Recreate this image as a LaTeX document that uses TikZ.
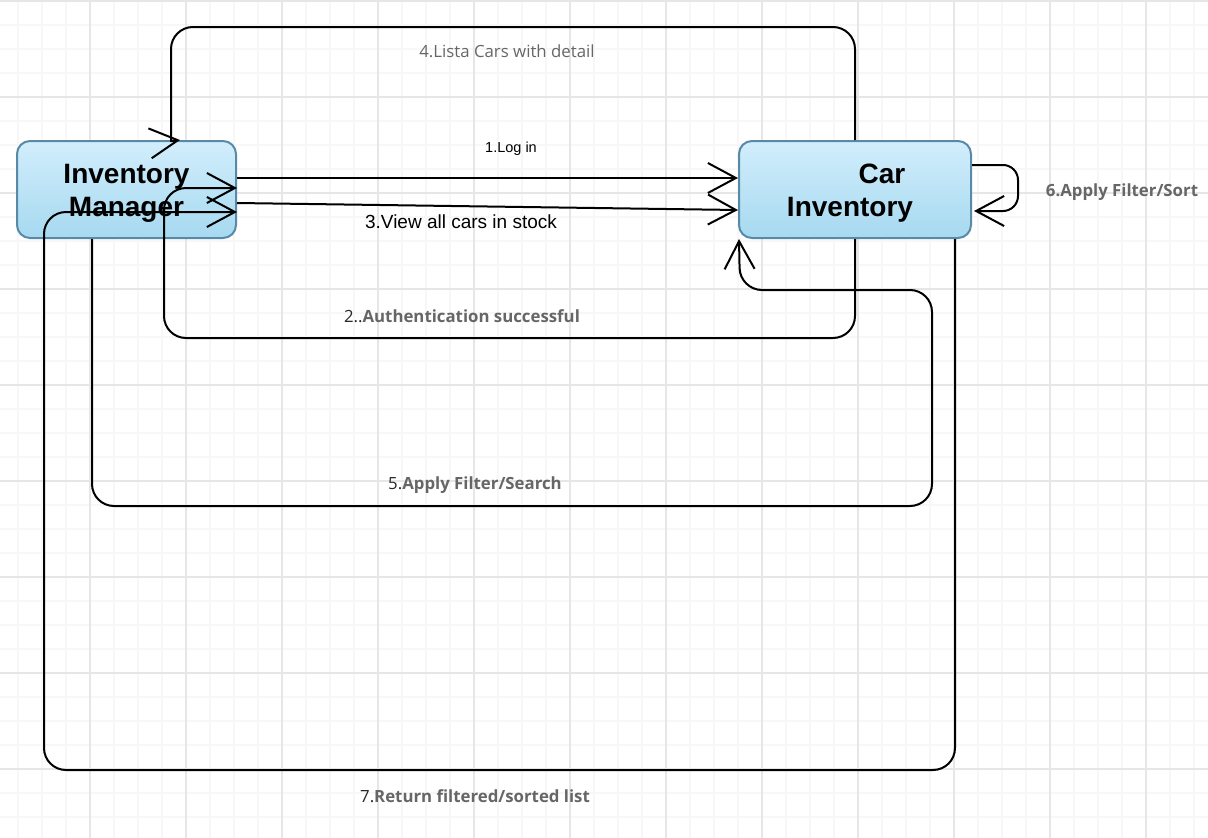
\documentclass[tikz,border=0pt]{standalone}
\usepackage{fontspec}
\setmainfont{Liberation Sans}
\newfontfamily\opensans{Open Sans}
\usetikzlibrary{arrows.meta}
\definecolor{gridmajor}{RGB}{230,230,230}
\definecolor{gridminor}{RGB}{247,247,247}
\definecolor{boxtop}{RGB}{210,238,252}
\definecolor{boxbot}{RGB}{166,217,240}
\definecolor{boxline}{RGB}{88,138,168}
\definecolor{lblgray}{RGB}{102,102,102}
\definecolor{lbldark}{RGB}{40,40,40}
\begin{document}
\begin{tikzpicture}[x=1pt,y=-1pt,
  box/.style={draw=boxline, line width=2pt, rounded corners=13pt,
    top color=boxtop, bottom color=boxbot, inner sep=0pt,
    minimum height=97pt, align=center,
    font=\fontsize{28}{33}\selectfont\bfseries},
  conn/.style={line width=2pt, rounded corners=22pt, line join=round,
    -{Straight Barb[length=28pt,width=30pt,line width=2pt]}},
  lblsans/.style={font=\fontsize{17}{20}\selectfont, text=black, inner sep=0pt},
  lblopen/.style={font=\opensans\fontsize{16.8}{20}\selectfont, text=lblgray, inner sep=0pt},
]
\useasboundingbox (0,0) rectangle (1208,838);
\fill[white] (0,0) rectangle (1208,838);
% grid
\foreach \i in {0,...,49} \draw[gridminor, line width=1.2pt] ({18+24*\i},0) -- ({18+24*\i},838);
\foreach \i in {0,...,34} \draw[gridminor, line width=1.2pt] (0,{1+24*\i}) -- (1208,{1+24*\i});
\foreach \i in {0,...,11} \draw[gridmajor, line width=1.3pt] ({90+96*\i},0) -- ({90+96*\i},838);
\foreach \i in {0,...,8} \draw[gridmajor, line width=1.3pt] (0,{1+96*\i}) -- (1208,{1+96*\i});

% nodes
\node[box, minimum width=219pt] (im) at (126.5,189.5) {\rule{0pt}{26pt}Inventory\\Manager};
\node[box, minimum width=232pt] (ci) at (855,189.5) {\rule{0pt}{26pt}\hspace*{54pt}Car\\Inventory\hspace*{10pt}};

% waypoints
\coordinate (w2) at (164,338);
\coordinate (w4) at (171,27);
\coordinate (w4b) at (171,141);
\coordinate (w5a) at (932,506);
\coordinate (w5b) at (740,290);
\coordinate (w6) at (1018,211);
\coordinate (w7) at (44,770);

% 1. Log in
\draw[conn] ([yshift=11.5pt]im.east) -- ([yshift=11.5pt]ci.west);
% 3. View all cars
\draw[conn] ([yshift=-13.5pt]im.east) -- ([yshift=-20.5pt]ci.west);
% 2. Authentication
\draw[conn] (ci.south) |- (w2) |- ([yshift=1.5pt]im.east);
% 4. Lista cars
\draw[conn] (ci.north) |- (w4) [sharp corners] -- (w4b) -- ([xshift=53.5pt]im.north);
% 5. Apply filter/search
\draw[conn] ([xshift=-34.5pt]im.south) |- (w5a) |- (w5b) -- ([xshift=1pt]ci.south west);
% 6. self loop
\draw[conn, rounded corners=15pt] ([yshift=24.5pt]ci.east) -| (w6) -- ([xshift=2pt,yshift=-21.5pt]ci.east);
% 7. Return filtered
\draw[conn] ([xshift=100pt]ci.south) |- (w7) |- ([yshift=-22.5pt]im.east);

% labels
\node[lblopen] (l4) at (507,51) {4.Lista Cars with detail};
\node[lblsans, font=\fontsize{14.5}{17}\selectfont] (l1) at (511,149) {1.Log in};
\node[lblsans, font=\fontsize{19}{22}\selectfont] (l3) at (461,222) {3.View all cars in stock};
\node[lblopen] (l2) at (462,316) {\textcolor{lbldark}{2..}\textbf{Authentication successful}};
\node[lblopen] (l5) at (475,485) {\textcolor{lbldark}{5.}\textbf{Apply Filter/Search}};
\node[lblopen] (l6) at (1122,192) {\textbf{6.Apply Filter/Sort}};
\node[lblopen] (l7) at (475,796) {\textcolor{lbldark}{7.}\textbf{Return filtered/sorted list}};
\end{tikzpicture}
\end{document}
